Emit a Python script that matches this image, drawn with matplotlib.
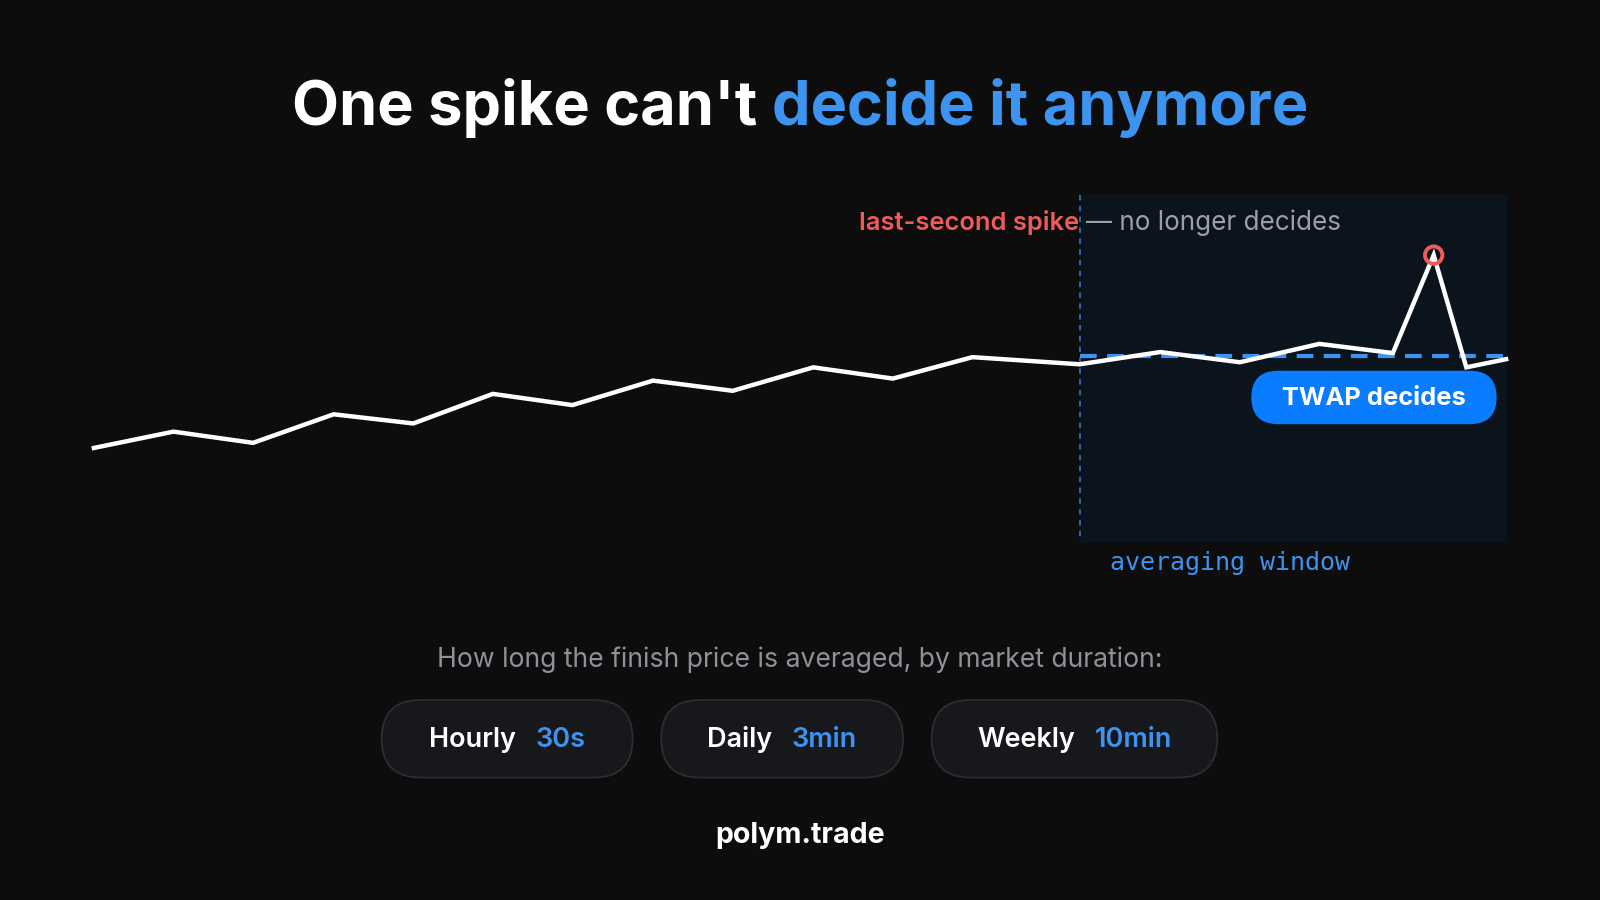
import matplotlib
matplotlib.use("Agg")
import matplotlib.pyplot as plt
from matplotlib.patches import FancyBboxPatch, Rectangle, Circle

times = [92,170,248,327,405,483,561,640,718,797,875,953,1058,1137,1215,1293,1365,1405,1437,1476]
prices = [439,423,434,406,415,386,397,373,383,360,371,350,357,345,355,337,346,250,360,352]
twap_level = 349
window_start = 1058
durations = ["Hourly", "Daily", "Weekly"]
windows = ["30s", "3min", "10min"]

BG = "#0d0d0e"
BLUE = "#3d94f0"
RED = "#ef5b5b"
S = 0.72 * 1600 / 1568

plt.rcParams['font.family'] = ['Inter', 'DejaVu Sans']
fig = plt.figure(figsize=(16, 9), dpi=100, facecolor=BG)
ax = fig.add_axes([0, 0, 1, 1])
ax.set_facecolor(BG)
ax.set_xlim(0, 1568); ax.set_ylim(882, 0); ax.axis("off")
fig.canvas.draw()
r = fig.canvas.get_renderer()
inv = ax.transData.inverted()

def width(t):
    bb = t.get_window_extent(renderer=r)
    return inv.transform((bb.x1, 0))[0] - inv.transform((bb.x0, 0))[0]

def pair(cx, y, a, b, ca, cb, fs, gap, **kw):
    t1 = ax.text(0, y, a, fontsize=fs, color=ca, ha="left", va="center", zorder=3, **kw)
    t2 = ax.text(0, y, b, fontsize=fs, color=cb, ha="left", va="center", zorder=3, **kw)
    w1, w2 = width(t1), width(t2)
    start = cx - (w1 + gap + w2) / 2
    t1.set_x(start); t2.set_x(start + w1 + gap)

pair(784, 106, "One spike can't", "decide it anymore", "white", BLUE, 60*S, 15, fontweight="bold")

ax.add_patch(Rectangle((window_start, 191), 1476-window_start, 339, color="#0b131d", zorder=1))
ax.plot([window_start, window_start], [191, 530], color="#2f6fb8", lw=1.3, ls=(0, (3, 3)), zorder=2)
ax.plot([window_start, 1476], [twap_level, twap_level], color=BLUE, lw=3, ls=(0, (4, 2.5)), zorder=3)
ax.plot(times, prices, color="white", lw=3.2, zorder=4, solid_joinstyle="miter")
ax.add_patch(Circle((1405, 250), 8.5, fill=False, ec=RED, lw=2.8, zorder=5))

ax.text(1058, 218, "last-second spike", fontsize=25*S, fontweight="semibold", color=RED, ha="right", va="center")
ax.text(1064, 218, "— no longer decides", fontsize=25.5*S, color="#9ba0a8", ha="left", va="center")

ax.add_patch(FancyBboxPatch((1227+25.5, 389.5), 239-51, 0, boxstyle="round,pad=25.5",
                            color="#0a7cff", zorder=6))
ax.text(1346, 391, "TWAP decides", fontsize=25*S, fontweight="bold", color="white", ha="center", va="center", zorder=7)
ax.text(1088, 552, "averaging window", fontsize=24.5*S, color=BLUE, family="DejaVu Sans Mono", ha="left", va="center")

ax.text(784, 647, "How long the finish price is averaged, by market duration:", fontsize=26*S, color="#8d9199", ha="center", va="center")

pills = [(374, 620), (648, 885), (913, 1193)]
for (x0, x1), d, w in zip(pills, durations, windows):
    ax.add_patch(FancyBboxPatch((x0+38, 724), x1-x0-76, 0, boxstyle="round,pad=38",
                                fc="#17181c", ec="#2b2d33", lw=1.3, zorder=2))
    pair((x0 + x1) / 2, 725, d, w, "white", BLUE, 26.5*S, 19, fontweight="semibold")

ax.text(784, 819, "polym.trade", fontsize=28*S, fontweight="bold", color="white", ha="center", va="center")
fig.savefig("out.png", dpi=100, facecolor=BG)
